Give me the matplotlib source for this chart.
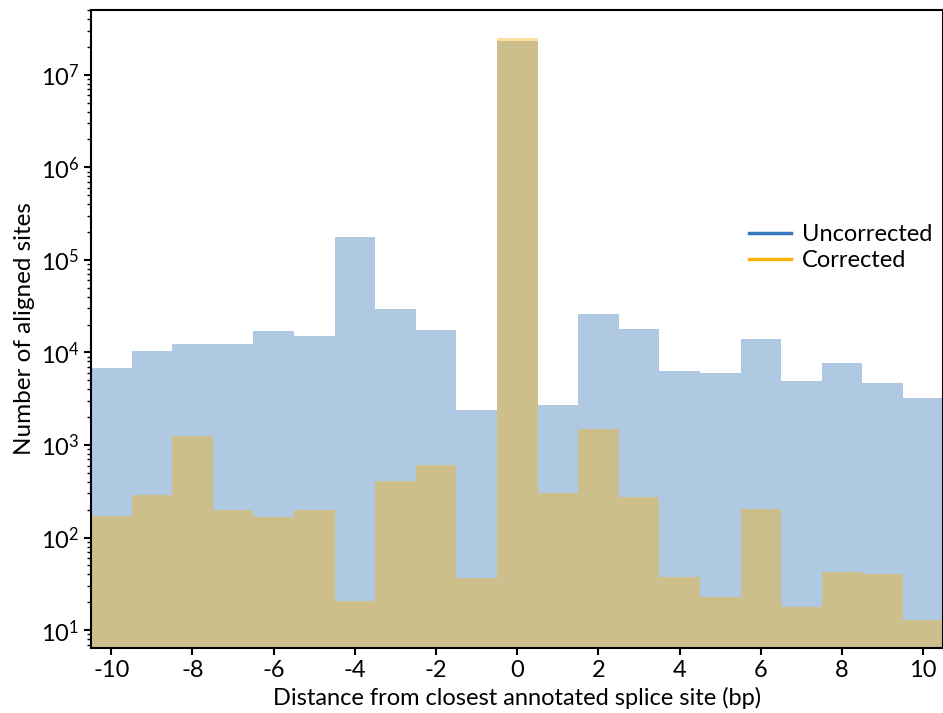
import numpy as np
import matplotlib
matplotlib.use("Agg")
import matplotlib.pyplot as plt
from matplotlib.lines import Line2D
from matplotlib.ticker import NullFormatter

plt.rcParams['font.family'] = ['Lato', 'DejaVu Sans']

# distance of each aligned site from the closest annotated splice site (bp)
distance = list(range(-10, 11))

uncorrected = [6850, 10400, 12250, 12250, 17100, 15000, 177000, 29500, 17400, 2390,
               22900000, 2700, 26100, 17700, 6350, 6000, 13900, 4880, 7700, 4640, 3240]
corrected = [171, 288, 1250, 200, 165, 200, 20.8, 411, 612, 36.8,
             24700000, 303, 1500, 272, 37.7, 22.8, 202, 17.9, 42.6, 40.6, 12.9]

blue = '#3778bb'
orange = '#fab20a'

fig = plt.figure(figsize=(9.43, 7.13), dpi=100)
ax = fig.add_axes([0.0965, 0.091, 0.904, 0.895])

bins = np.arange(-10.5, 11.5, 1)
ax.hist(distance, bins=bins, weights=uncorrected, histtype='stepfilled',
        color=blue, alpha=0.4)
ax.hist(distance, bins=bins, weights=corrected, histtype='stepfilled',
        color=orange, alpha=0.4)

ax.set_yscale('log')
ax.set_xlim(-10.5, 10.5)
ax.set_ylim(6.4, 5e7)
ax.set_yticks([10.0 ** k for k in range(1, 8)])
ax.yaxis.set_minor_formatter(NullFormatter())
ax.set_xticks(range(-10, 11, 2))
ax.set_xticklabels([str(t) for t in range(-10, 11, 2)])

ax.set_xlabel('Distance from closest annotated splice site (bp)', fontsize=17)
ax.set_ylabel('Number of aligned sites', fontsize=17.5)
ax.tick_params(axis='both', which='major', labelsize=17, width=1.5, length=5)
ax.tick_params(axis='both', which='minor', width=1.0, length=3)
for side in ax.spines.values():
    side.set_linewidth(1.5)

handles = [Line2D([], [], color=blue, lw=2.5),
           Line2D([], [], color=orange, lw=2.5)]
ax.legend(handles, ['Uncorrected', 'Corrected'], frameon=False, fontsize=17,
          loc='center right', bbox_to_anchor=(1.012, 0.628),
          handlelength=1.8, handletextpad=0.45, labelspacing=0.22)

fig.savefig('out.png', dpi=100)
